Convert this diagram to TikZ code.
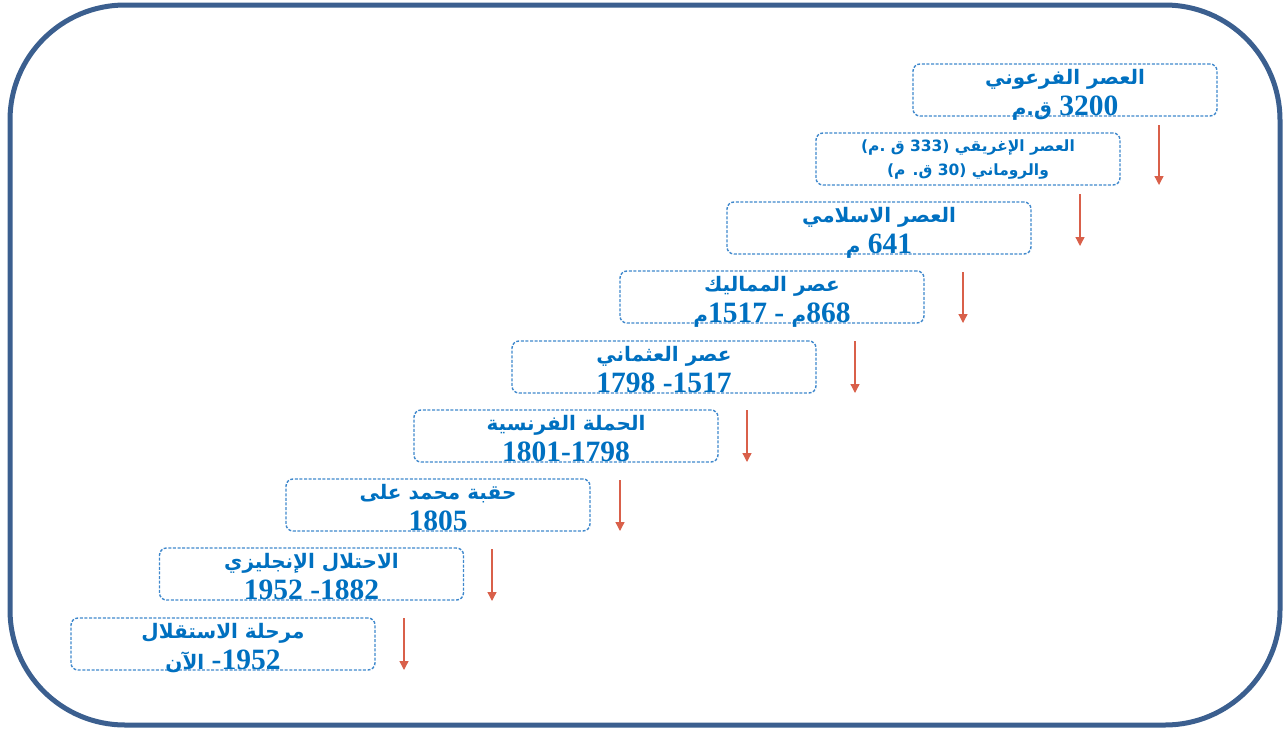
\documentclass[tikz,border=0pt]{standalone}
\usepackage{fontspec}
\setmainfont{Liberation Serif}
\newfontfamily\arabicfont[Script=Arabic]{DejaVu Sans}
\TeXXeTstate=1
\usetikzlibrary{arrows.meta}
\definecolor{framecol}{HTML}{3B5F8F}
\definecolor{boxcol}{HTML}{3F88CC}
\definecolor{textcol}{HTML}{0070C0}
\definecolor{arrowcol}{HTML}{D9604A}
\newcommand\arm{\arabicfont\fontsize{20}{22}\selectfont}

\begin{document}
\begin{tikzpicture}[x=1pt,y=-1pt,
    period/.style={draw=boxcol, line width=1.4pt, dash pattern=on 3pt off 1.6pt,
        rounded corners=7pt, minimum width=304pt, minimum height=52pt, inner sep=0pt},
    eraname/.style={anchor=base, text=textcol, inner sep=0pt,
        font=\arabicfont\bfseries\fontsize{20}{22}\selectfont},
    erasmall/.style={eraname, font=\arabicfont\bfseries\fontsize{15.5}{17}\selectfont},
    erayear/.style={anchor=base, text=textcol, inner sep=0pt,
        font=\bfseries\fontsize{29.5}{31}\selectfont},
    flow/.style={draw=arrowcol, line width=1.3pt, -{Triangle[length=9pt,width=9pt]}}]
        \useasboundingbox (0,0) rectangle (1288,732);
        \draw [framecol, line width=5pt, rounded corners=115pt] (10,5) rectangle (1280,725);

        % the periods, one box each
        \foreach \n/\x/\y in {1/1065/90, 2/968/159, 3/879/228, 4/772/297, 5/664/367,
                6/566/436, 7/438/505, 8/311.5/574, 9/223/644} {
            \node[period] (era\n) at (\x,\y) {};
        }

        \node[eraname] (name1) at ([yshift=6pt]era1.center) {\beginR العصر الفرعوني\endR};
        \node[erayear] (date1) at ([yshift=-25pt]era1.center) {{\arm ق.م} 3200};

        \node[erasmall] (name2) at ([yshift=8pt]era2.center) {\beginR العصر الإغريقي (333 ق .م)\endR};
        \node[erasmall] (date2) at ([yshift=-16pt]era2.center) {\beginR والروماني (30 ق. م)\endR};

        \node[eraname] (name3) at ([yshift=6pt]era3.center) {\beginR العصر الاسلامي\endR};
        \node[erayear] (date3) at ([yshift=-25pt]era3.center) {{\arm م} 641};

        \node[eraname] (name4) at ([yshift=6pt]era4.center) {\beginR عصر المماليك\endR};
        \node[erayear] (date4) at ([yshift=-25pt]era4.center) {{\arm م}1517 - {\arm م}868};

        \node[eraname] (name5) at ([yshift=6pt]era5.center) {\beginR عصر العثماني\endR};
        \node[erayear] (date5) at ([yshift=-25pt]era5.center) {1798 -1517};

        \node[eraname] (name6) at ([yshift=6pt]era6.center) {\beginR الحملة الفرنسية\endR};
        \node[erayear] (date6) at ([yshift=-25pt]era6.center) {1801-1798};

        \node[eraname] (name7) at ([yshift=6pt]era7.center) {\beginR حقبة محمد على\endR};
        \node[erayear] (date7) at ([yshift=-25pt]era7.center) {1805};

        \node[eraname] (name8) at ([yshift=6pt]era8.center) {\beginR الاحتلال الإنجليزي\endR};
        \node[erayear] (date8) at ([yshift=-25pt]era8.center) {1952 -1882};

        \node[eraname] (name9) at ([yshift=6pt]era9.center) {\beginR مرحلة الاستقلال\endR};
        \node[erayear] (date9) at ([yshift=-25pt]era9.center) {{\arm الآن} -1952};

        % arrows under each box
        \foreach \n/\x/\ya/\yb in {1/1159/125/185, 2/1080/194/246, 3/963/272/323, 4/855/341/393,
                5/747/410/462, 6/620/480/531, 7/492/549/601, 8/404/618/670} {
            \coordinate (from\n) at (\x,\ya);
            \coordinate (to\n) at (\x,\yb);
            \draw[flow] (from\n) -- (to\n);
        }
\end{tikzpicture}
\end{document}
